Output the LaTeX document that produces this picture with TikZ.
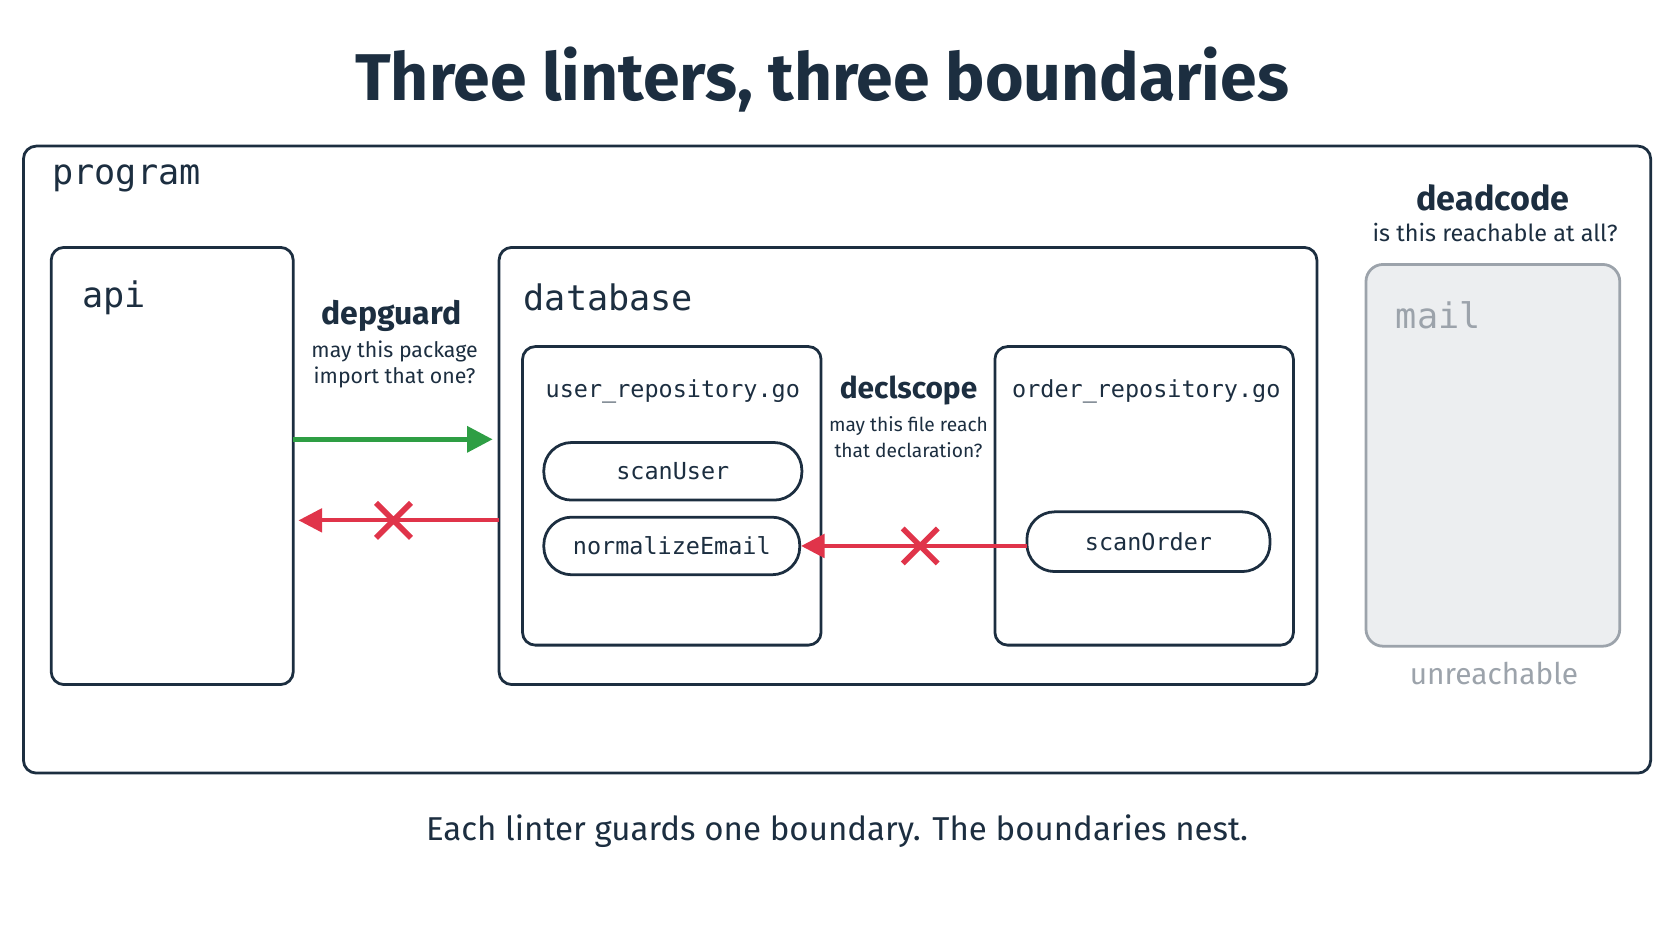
\documentclass[tikz,border=0pt]{standalone}
\usepackage{fontspec}
\setmainfont{Fira Sans}
\setmonofont{DejaVu Sans Mono}
\usetikzlibrary{arrows.meta}
\definecolor{navy}{HTML}{1C2E40}
\definecolor{okgreen}{HTML}{2E9E44}
\definecolor{bad}{HTML}{E0344A}
\definecolor{mgray}{HTML}{9CA3AB}
\definecolor{mfill}{HTML}{ECEEF0}
\tikzset{
  box/.style={draw=navy,line width=1.3pt,rounded corners=6pt},
  pill/.style={draw=navy,line width=1.3pt,rounded corners=13pt},
  lbl/.style={text=navy,font=\ttfamily\fontsize{16.5}{18}\selectfont,anchor=west},
  flbl/.style={text=navy,font=\ttfamily\fontsize{11}{13}\selectfont},
  note/.style={text=navy,font=\fontsize{10}{12}\selectfont,align=center},
  lint/.style={text=navy,font=\bfseries\fontsize{15}{17}\selectfont},
  goarrow/.style={draw=okgreen,line width=2.2pt,-{Triangle[length=12pt,width=12pt]}},
  noarrow/.style={draw=bad,line width=1.8pt,-{Triangle[length=11pt,width=11pt]}},
  xline/.style={draw=bad,line width=2.6pt}
}
\begin{document}
\begin{tikzpicture}[x=0.5pt,y=-0.5pt]
\useasboundingbox (0,0) rectangle (1568,882);
\node[text=navy,font=\bfseries\fontsize{31}{34}\selectfont] (title) at (771,75) {Three linters, three boundaries};
\draw[box] (22,137) rectangle (1548,725);
\node[lbl] (prog) at (42,167) {program};
% api
\draw[box] (48,232) rectangle (275,642);
\node[lbl] (apil) at (70,279) {api};
\coordinate (apiA) at (275,412);
\coordinate (apiB) at (280,488);
% database
\draw[box] (468,232) rectangle (1235,642);
\node[lbl] (dbl) at (484,279) {database};
\coordinate (dbA) at (462,412);
\coordinate (dbB) at (468,488);
% user repo
\draw[box] (490,325) rectangle (770,605);
\node[flbl] (ur) at (631,367) {user\_repository.go};
\node[pill,flbl,minimum width=121pt,minimum height=27pt] (scanU) at (631,442) {scanUser};
\node[pill,flbl,minimum width=120pt,minimum height=27pt] (norm) at (630,512) {normalizeEmail};
% order repo
\draw[box] (933,325) rectangle (1213,605);
\node[flbl] (orl) at (1075,367) {order\_repository.go};
\node[pill,flbl,minimum width=114pt,minimum height=28pt] (scanO) at (1077,508) {scanOrder};
\coordinate (soW) at (963,512);
% mail
\draw[draw=mgray,fill=mfill,line width=1.3pt,rounded corners=8pt] (1281,248) rectangle (1519,606);
\node[lbl,text=mgray] (mail) at (1302,296) {mail};
\node[text=mgray,font=\fontsize{14}{16}\selectfont] (unr) at (1401,632) {unreachable};
% labels
\node[lint] (dg) at (367,296) {depguard};
\node[note] (dgn) at (370,342) {may this package\\import that one?};
\node[lint,font=\bfseries\fontsize{14}{16}\selectfont] (ds) at (852,366) {declscope};
\node[note,font=\fontsize{9}{12.5}\selectfont] (dsn) at (852,410) {may this file reach\\that declaration?};
\node[lint,font=\bfseries\fontsize{16}{18}\selectfont] (dc) at (1400,186) {deadcode};
\node[note,font=\fontsize{11}{13}\selectfont] (dcn) at (1402,218) {is this reachable at all?};
% arrows
\draw[goarrow] (apiA) -- (dbA);
\draw[noarrow] (dbB) -- (apiB);
\node[inner sep=0,minimum size=16pt] (x1) at (369,488) {};
\draw[xline] (x1.north west) -- (x1.south east) (x1.north east) -- (x1.south west);
\draw[noarrow] (soW) -- (norm.east |- soW);
\node[inner sep=0,minimum size=16pt] (x2) at (863,512) {};
\draw[xline] (x2.north west) -- (x2.south east) (x2.north east) -- (x2.south west);
\node[text=navy,font=\fontsize{15.5}{18}\selectfont] (cap) at (785,779) {Each linter guards one boundary. The boundaries nest.};
\end{tikzpicture}
\end{document}
